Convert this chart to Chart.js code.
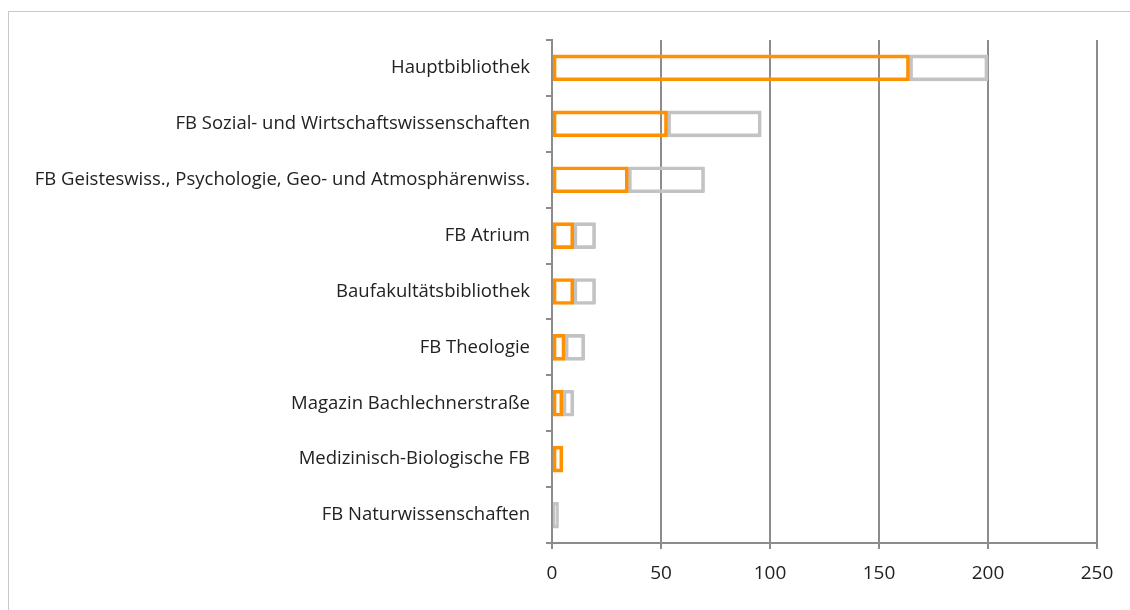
<!DOCTYPE html>
<html>
<head>
<meta charset="utf-8">
<script src="https://cdn.jsdelivr.net/npm/chart.js@4/dist/chart.umd.min.js"></script>
<style>
    html, body { margin: 0; padding: 0; background: #fff; }
    #frame {
        position: absolute; left: 8px; top: 11px; width: 1140px; height: 620px;
        border: 1px solid #c8c8c8; box-sizing: border-box;
    }
    #wrap { position: absolute; left: 0; top: 0; width: 1130px; height: 610px; }
</style>
</head>
<body>
<div id="frame"></div>
<div id="wrap"><canvas id="barChart"></canvas></div>
<script>
//Categories (top to bottom)
const libraries = [
    'Hauptbibliothek',
    'FB Sozial- und Wirtschaftswissenschaften',
    'FB Geisteswiss., Psychologie, Geo- und Atmosphärenwiss.',
    'FB Atrium',
    'Baufakultätsbibliothek',
    'FB Theologie',
    'Magazin Bachlechnerstraße',
    'Medizinisch-Biologische FB',
    'FB Naturwissenschaften'
];

//Series values
const orangeValues = [164, 53, 35, 10, 10, 6, 5, 5, 0];
const greyValues = [36, 43, 35, 10, 10, 9, 5, 0, 3];

//Axis ticks
const xTicks = [0, 50, 100, 150, 200, 250];

const gridGrey = '#8c8c8c';

const data = {
    labels: libraries,
    datasets: [
        {
            label: 'A',
            data: orangeValues,
            borderColor: '#ff9000',
            backgroundColor: 'rgba(0,0,0,0)',
            borderWidth: 3,
            borderSkipped: false,
            barThickness: 26
        },
        {
            label: 'B',
            data: greyValues,
            borderColor: '#c3c3c3',
            backgroundColor: 'rgba(0,0,0,0)',
            borderWidth: 3,
            borderSkipped: false,
            borderRadius: 1,
            barThickness: 26
        }
    ]
};

const config = {
    type: 'bar',
    data: data,
    options: {
        indexAxis: 'y',
        responsive: true,
        maintainAspectRatio: false,
        animation: false,
        layout: { padding: { top: 40, right: 33, left: 0, bottom: 0 } },
        plugins: {
            legend: { display: false },
            tooltip: { enabled: false }
        },
        scales: {
            x: {
                stacked: true,
                min: 0,
                max: 250,
                afterBuildTicks: scale => { scale.ticks = xTicks.map(v => ({ value: v })); },
                afterFit: scale => { scale.height = 67; },
                grid: {
                    color: gridGrey,
                    lineWidth: 2,
                    tickLength: 6,
                    drawTicks: true
                },
                border: { color: gridGrey, width: 2 },
                ticks: {
                    color: '#222',
                    padding: 13,
                    font: { family: 'Open Sans', size: 19 }
                }
            },
            y: {
                stacked: true,
                afterFit: scale => { scale.width = 552; },
                grid: {
                    offset: true,
                    drawOnChartArea: false,
                    color: gridGrey,
                    lineWidth: 2,
                    tickLength: 6
                },
                border: { color: gridGrey, width: 2 },
                ticks: {
                    color: '#222',
                    padding: 16,
                    font: { family: 'Open Sans', size: 18.5 }
                }
            }
        }
    }
};

const ctx = document.getElementById('barChart').getContext('2d');
new Chart(ctx, config);
</script>
</body>
</html>
